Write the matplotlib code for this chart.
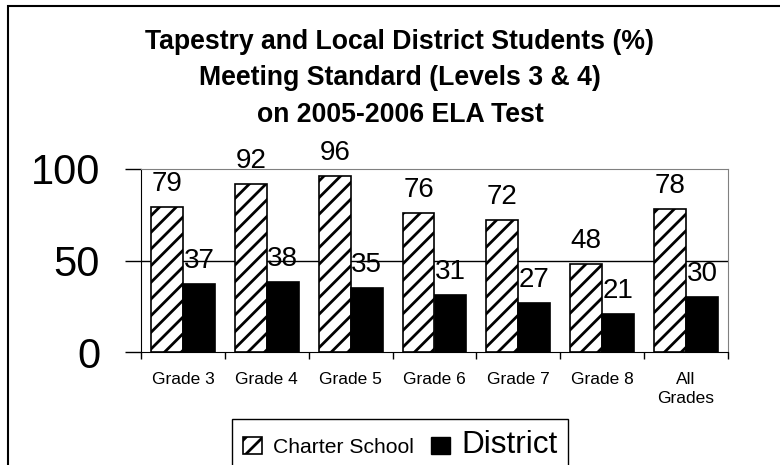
import matplotlib.pyplot as plt
import numpy as np
from matplotlib.patches import Patch, Rectangle

plt.rcParams['font.family'] = ['Liberation Sans', 'DejaVu Sans']
plt.rcParams['hatch.linewidth'] = 2.0

# dati
gradi = ["Grade 3", "Grade 4", "Grade 5", "Grade 6", "Grade 7", "Grade 8", "All\nGrades"]
charter = [79, 92, 96, 76, 72, 48, 78]
district = [37, 38, 35, 31, 27, 21, 30]
titolo = ("Tapestry and Local District Students (%)\n"
          "Meeting Standard (Levels 3 & 4)\n"
          "on 2005-2006 ELA Test")

W, H = 780, 465
fig = plt.figure(figsize=(W / 100, H / 100), dpi=100)
ax = fig.add_axes([141 / W, 1 - 352 / H, 587 / W, 183 / H])

x = np.arange(len(gradi))
larg = 0.38
b1 = ax.bar(x - larg / 2, charter, larg, color="white", edgecolor="black",
            hatch="//", linewidth=1.2, label="Charter School", zorder=3)
b2 = ax.bar(x + larg / 2, district, larg, color="black", edgecolor="black",
            linewidth=1.2, label="District", zorder=3)

for barre in (b1, b2):
    for r in barre:
        ax.annotate(f"{r.get_height():.0f}", (r.get_x() + r.get_width() / 2, r.get_height()),
                    xytext=(0, 11.5), textcoords="offset points",
                    ha="center", va="baseline", fontsize=20, zorder=4)

ax.axhline(50, color="black", linewidth=1, zorder=1)
ax.set_xlim(-0.5, len(gradi) - 0.5)
ax.set_ylim(0, 100)

ax.set_yticks([0, 50, 100])
ax.tick_params(axis="y", length=11.5, width=1, pad=18, labelsize=30)
ax.set_xticks(np.arange(len(gradi) + 1) - 0.5)
ax.set_xticklabels([])
ax.set_xticks(x, minor=True)
ax.set_xticklabels(gradi, minor=True, fontsize=12.5, linespacing=1.3)
ax.tick_params(axis="x", which="major", length=5, width=1)
ax.tick_params(axis="x", which="minor", length=0, pad=14.5)

for s in ("top", "right"):
    ax.spines[s].set_color("#808080")
for s in ("left", "bottom"):
    ax.spines[s].set_color("black")

fig.text(400 / W, 1 - 29 / H, titolo, ha="center", va="top", fontsize=19.2,
         fontweight="bold", linespacing=1.52)

# cornice esterna (tagliata a destra e in basso)
fig.add_artist(Rectangle((8 / W, -0.5), 2, 1.5 - 6 / H, transform=fig.transFigure,
                         fill=False, edgecolor="black", linewidth=1.5, clip_on=False))

maniglie = [Patch(facecolor="white", edgecolor="black", hatch="//", linewidth=1.2),
            Patch(facecolor="black", edgecolor="black")]
leg = fig.legend(maniglie, ["Charter School", "District"], ncol=2,
                 loc="upper left", bbox_to_anchor=(232 / W, 1 - 419 / H),
                 fontsize=15.2, frameon=True, fancybox=False, framealpha=1,
                 edgecolor="black", handlelength=0.9, handleheight=0.9,
                 handletextpad=0.55, columnspacing=0.8, borderpad=0.5,
                 borderaxespad=0)
leg.get_texts()[1].set_fontsize(22.7)
leg.get_frame().set_linewidth(1)

fig.savefig("out.png", dpi=100)
plt.close()
